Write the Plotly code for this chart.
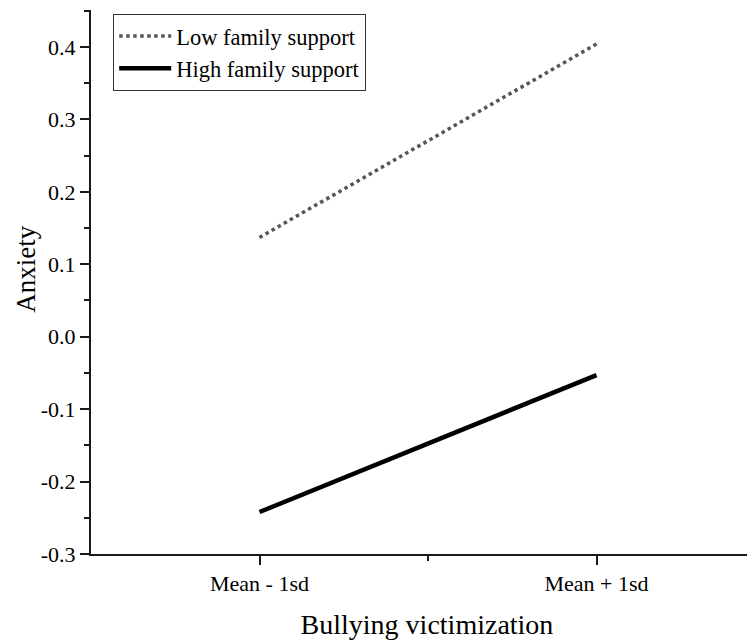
import plotly.graph_objects as go

categories = ["Mean - 1sd", "Mean + 1sd"]
low_support = [0.137, 0.404]
high_support = [-0.242, -0.053]
y_ticks = [-0.3, -0.2, -0.1, 0.0, 0.1, 0.2, 0.3, 0.4]
y_tick_labels = ["-0.3", "-0.2", "-0.1", "0.0", "0.1", "0.2", "0.3", "0.4"]

xpos = list(range(1, len(categories) + 1))
FONT = "Liberation Serif"
AX = "#1a1a1a"

fig = go.Figure()
fig.add_trace(go.Scatter(x=xpos, y=low_support, mode="lines", name="Low family support",
                         line=dict(color="#555555", width=3.5, dash="dot")))
fig.add_trace(go.Scatter(x=xpos, y=high_support, mode="lines", name="High family support",
                         line=dict(color="#000000", width=4.5)))

fig.update_layout(
    width=755, height=640,
    margin=dict(l=83, r=0, t=2, b=94, autoexpand=False),
    paper_bgcolor="white", plot_bgcolor="white",
    font=dict(family=FONT, color="black", size=22),
    showlegend=True,
    legend=dict(x=0.033, y=0.993, xanchor="left", yanchor="top",
                bordercolor="#333333", borderwidth=1, bgcolor="white",
                font=dict(family=FONT, size=22.5), itemwidth=52,
                tracegroupgap=0),
    annotations=[dict(text="Anxiety", textangle=-90, xref="paper", yref="paper",
                      x=-0.097, y=0.524, xanchor="center", yanchor="middle",
                      showarrow=False, font=dict(family=FONT, size=27))],
)
fig.update_xaxes(
    range=[0.5, 2.494], showline=True, linecolor=AX, linewidth=2,
    tickvals=xpos, ticktext=categories, ticks="outside", ticklen=9, tickwidth=2,
    tickcolor=AX, showgrid=False, zeroline=False, automargin=False,
    minor=dict(tickvals=[1.5], ticks="outside", ticklen=5, tickwidth=2, tickcolor=AX, showgrid=False),
    title=dict(text="Bullying victimization", font=dict(family=FONT, size=28), standoff=19),
    tickfont=dict(family=FONT, size=22),
)
fig.update_yaxes(
    range=[-0.3, 0.451], showline=True, linecolor=AX, linewidth=2,
    tickvals=y_ticks, ticktext=y_tick_labels, ticks="outside", ticklen=9, tickwidth=2,
    tickcolor=AX, showgrid=False, zeroline=False, automargin=False,
    minor=dict(dtick=0.05, tick0=-0.3, ticks="outside", ticklen=5, tickwidth=2, tickcolor=AX, showgrid=False),
    tickfont=dict(family=FONT, size=22),
)
fig.write_html("out.html")
